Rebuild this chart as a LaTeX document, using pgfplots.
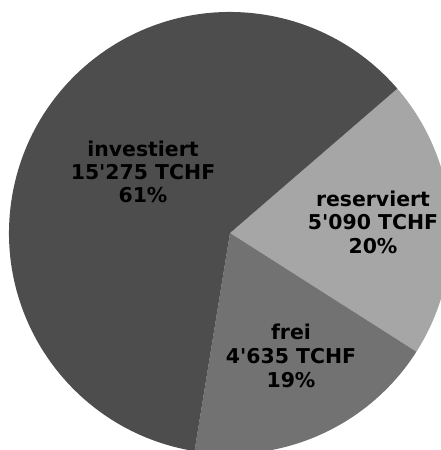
\documentclass[border=0pt]{standalone}
\usepackage{pgfplots}
\usepackage{pgfplotstable}
\pgfplotsset{compat=1.18}
\usepackage{fontspec}
\newfontfamily\lab{DejaVu Sans}
\definecolor{investc}{HTML}{4D4D4D}
\definecolor{reservc}{HTML}{A6A6A6}
\definecolor{freic}{HTML}{727272}
\pgfplotstableread{
label value
reserviert 5090
frei 4635
investiert 15275
}\piedata
\begin{document}
\begin{tikzpicture}
\pgfplotstablegetelem{0}{value}\of\piedata \let\vA\pgfplotsretval
\pgfplotstablegetelem{1}{value}\of\piedata \let\vB\pgfplotsretval
\pgfplotstablegetelem{2}{value}\of\piedata \let\vC\pgfplotsretval
\pgfmathsetmacro\tot{\vA/1000+\vB/1000+\vC/1000}
\pgfmathsetmacro\aA{40.8}
\pgfmathsetmacro\aB{\aA-360*(\vA/1000)/\tot}
\pgfmathsetmacro\aC{\aB-360*(\vB/1000)/\tot}
\pgfmathsetmacro\aD{\aC-360*(\vC/1000)/\tot}
\begin{axis}[x=1bp,y=1bp,xmin=0,xmax=441,ymin=0,ymax=450,hide axis,clip=true]
\addplot[draw=none] coordinates {(0,0) (441,450)};
\fill[reservc] (axis cs:230,217) -- ++(\aA:221bp) arc[start angle=\aA, end angle=\aB, radius=221bp] -- cycle;
\fill[freic] (axis cs:230,217) -- ++(\aB:221bp) arc[start angle=\aB, end angle=\aC, radius=221bp] -- cycle;
\fill[investc] (axis cs:230,217) -- ++(\aC:221bp) arc[start angle=\aC, end angle=\aD, radius=221bp] -- cycle;
\node[align=center,font=\lab\bfseries\fontsize{20.5}{23}\selectfont] at (axis cs:143,278) {investiert\\15\textquotesingle275 TCHF\\61\%};
\node[align=center,font=\lab\bfseries\fontsize{20.5}{23.5}\selectfont] at (axis cs:373,228) {reserviert\\5\textquotesingle090 TCHF\\20\%};
\node[align=center,font=\lab\bfseries\fontsize{20.5}{24}\selectfont] at (axis cs:291,94) {frei\\4\textquotesingle635 TCHF\\19\%};
\end{axis}
\pgfresetboundingbox
\useasboundingbox (current axis.south west) rectangle (current axis.north east);
\end{tikzpicture}
\end{document}
